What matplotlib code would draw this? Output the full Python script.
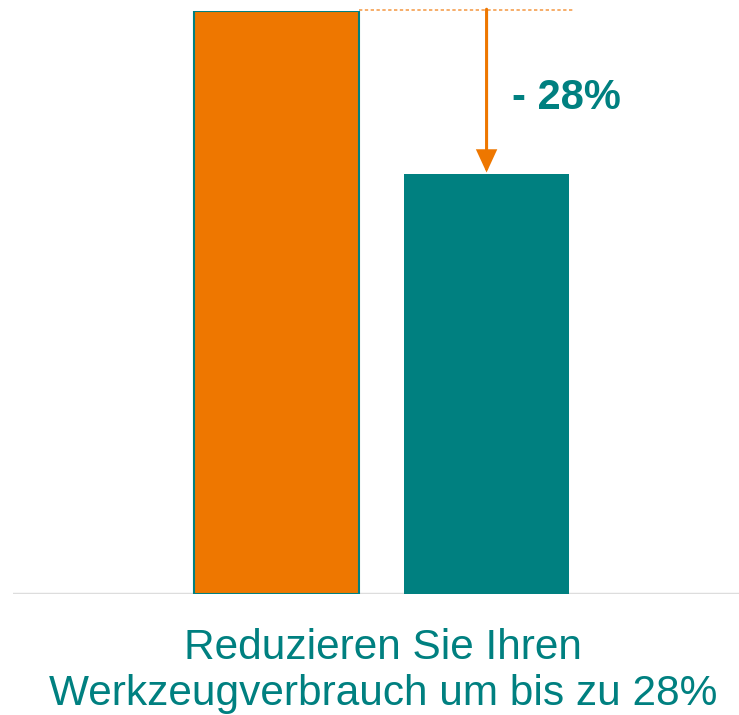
import matplotlib
matplotlib.use("Agg")
import matplotlib.pyplot as plt

categories = ["Vorher", "Nachher"]
values = [100, 72]
reduction_label = "- 28%"
caption = "Reduzieren Sie Ihren\nWerkzeugverbrauch um bis zu 28%"

ORANGE = "#EE7700"
TEAL = "#008080"

plt.rcParams['font.family'] = ['Liberation Sans', 'DejaVu Sans']

fig = plt.figure(figsize=(7.39, 7.15), dpi=100)
W, H = 739, 715
left_px, right_px, top_px, base_px = 13, 739, 11, 594
ax = fig.add_axes([left_px / W, (H - base_px) / H, (right_px - left_px) / W, (base_px - top_px) / H])

x = [0, 1]
ax.bar(x[0], values[0], width=0.786, color=ORANGE, edgecolor=TEAL, linewidth=1.5, zorder=2)
ax.bar(x[1], values[1], width=0.786, color=TEAL, edgecolor=TEAL, linewidth=0, zorder=2)

ax.set_xlim(-1.255, 2.202)
ax.set_ylim(0, 100)
for s in ax.spines.values():
    s.set_visible(False)
ax.set_xticks([])
ax.set_yticks([])
ax.axhline(0, color="#DDDDDD", linewidth=2.5, zorder=1)

# dashed reference line at the top value
ax.plot([0.393, 1.41], [values[0] + 0.2, values[0] + 0.2], color="#F5A050", linestyle=(0, (2, 1.5)),
        linewidth=1.2, clip_on=False, zorder=3)
# arrow
ax.annotate("", xy=(1.0, values[1] + 0.3), xytext=(1.0, values[0] + 0.3),
            arrowprops=dict(arrowstyle="-|>,head_length=1.3,head_width=0.6", color=ORANGE,
                            lw=2.2, shrinkA=0, shrinkB=0, joinstyle="miter"),
            annotation_clip=False, zorder=4)
ax.text(1.12, 85, reduction_label, color=TEAL, fontsize=30, fontweight="bold",
        ha="left", va="center")

fig.text(383 / W, 1 - 671 / H, caption, color=TEAL, fontsize=30.5, ha="center", va="center",
         linespacing=1.22)

fig.savefig("out.png", dpi=100)
